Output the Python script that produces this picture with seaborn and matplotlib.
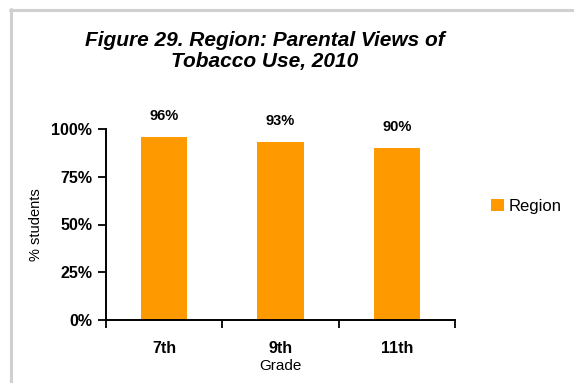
import matplotlib
matplotlib.use("Agg")
import matplotlib.pyplot as plt
from matplotlib.lines import Line2D
from matplotlib.patches import Patch
import seaborn as sns
import pandas as pd

grades = ["7th", "9th", "11th"]
region_share = [0.96, 0.93, 0.90]
value_labels = ["96%", "93%", "90%"]
y_ticks = [0, 0.25, 0.5, 0.75, 1.0]
y_tick_labels = ["0%", "25%", "50%", "75%", "100%"]
series_name = "Region"

bar_color = "#FF9900"

sns.set_theme(style="white")
plt.rcParams["font.family"] = ["Liberation Sans", "DejaVu Sans"]
plt.rcParams["text.color"] = "black"
plt.rcParams["axes.labelcolor"] = "black"
plt.rcParams["xtick.color"] = "black"
plt.rcParams["ytick.color"] = "black"

df = pd.DataFrame({"Grade": grades, "share": region_share})

fig = plt.figure(figsize=(5.74, 3.83), dpi=100)
fig.patch.set_facecolor("white")
ax = fig.add_axes([106 / 574, 1 - 320 / 383, (455 - 106) / 574, (320 - 129) / 383])

sns.barplot(data=df, x="Grade", y="share", color=bar_color, width=0.4,
            saturation=1, ax=ax, edgecolor="none")

ax.set_xlim(-0.5, len(grades) - 0.5)
ax.set_ylim(0, 1)

# y axis
ax.set_yticks(y_ticks)
ax.set_yticklabels(y_tick_labels, fontsize=11.5, fontweight="bold")
ax.set_ylabel("% students", fontsize=10.5, labelpad=6)

# x axis: tick marks on category boundaries, labels at the centres
ax.set_xticks([i - 0.5 for i in range(len(grades) + 1)])
ax.set_xticklabels([])
ax.set_xticks(range(len(grades)), minor=True)
ax.set_xticklabels(grades, minor=True, fontsize=11.5, fontweight="bold")
ax.tick_params(axis="x", which="minor", length=0, pad=15)
ax.tick_params(axis="x", which="major", direction="out", length=6, width=1.3,
               color="black", bottom=True)
ax.tick_params(axis="y", direction="out", length=6, width=1.3, color="black",
               left=True, pad=4)
ax.set_xlabel("Grade", fontsize=11, labelpad=2)

for side in ["top", "right"]:
    ax.spines[side].set_visible(False)
for side in ["left", "bottom"]:
    ax.spines[side].set_color("black")
    ax.spines[side].set_linewidth(1.4)

# value labels above bars
for i, (v, lab) in enumerate(zip(region_share, value_labels)):
    ax.annotate(lab, xy=(i, v), xytext=(0, 14), textcoords="offset pixels",
                ha="center", va="bottom", fontsize=10.5, fontweight="bold",
                color="black")

# legend
handles = [Patch(facecolor=bar_color, edgecolor="none", label=series_name)]
fig.legend(handles=handles, loc="center left",
           bbox_to_anchor=(476 / 574, 1 - 206 / 383), frameon=False,
           fontsize=12, handlelength=0.75, handleheight=0.75, handletextpad=0.3)

# title
fig.text(265 / 574, 1 - 51 / 383,
         "Figure 29. Region: Parental Views of\nTobacco Use, 2010",
         ha="center", va="center", fontsize=15, fontweight="bold",
         fontstyle="italic", linespacing=1.15)

# outer frame lines
fig.add_artist(Line2D([10 / 574, 1], [1 - 10 / 383, 1 - 10 / 383],
                      transform=fig.transFigure, color="#d0d0d0", lw=2.2))
fig.add_artist(Line2D([11 / 574, 11 / 574], [0, 1 - 9 / 383],
                      transform=fig.transFigure, color="#d0d0d0", lw=2.2))

fig.savefig("out.png", dpi=100, facecolor="white")
